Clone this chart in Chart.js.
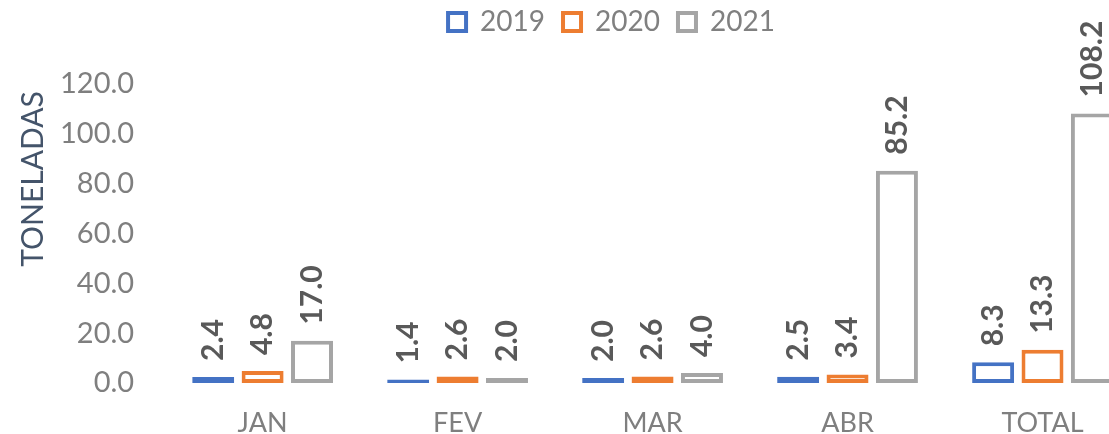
<!DOCTYPE html>
<html>
<head>
<meta charset="utf-8">
<script src="https://cdn.jsdelivr.net/npm/chart.js@4"></script>
<style>
  html, body { margin: 0; padding: 0; background: #fff; overflow: hidden; }
  #wrap { width: 1150px; height: 464px; position: relative; }
</style>
</head>
<body>
<div id="wrap"><canvas id="chart"></canvas></div>
<script>
const months = ['JAN', 'FEV', 'MAR', 'ABR', 'TOTAL'];
const values2019 = [2.4, 1.4, 2.0, 2.5, 8.3];
const values2020 = [4.8, 2.6, 2.6, 3.4, 13.3];
const values2021 = [17.0, 2.0, 4.0, 85.2, 108.2];
const seriesNames = ['2019', '2020', '2021'];
const seriesColors = ['#4472C4', '#ED7D31', '#A5A5A5'];
const yTitle = 'TONELADAS';

const FONT = 'Lato, Carlito, "Open Sans", sans-serif';

// rotated value labels above the bars
const barLabels = {
  id: 'barLabels',
  afterDatasetsDraw(chart) {
    const ctx = chart.ctx;
    ctx.save();
    ctx.font = 'bold 30px ' + FONT;
    ctx.fillStyle = '#595959';
    ctx.textAlign = 'left';
    ctx.textBaseline = 'middle';
    chart.data.datasets.forEach((ds, i) => {
      chart.getDatasetMeta(i).data.forEach((bar, j) => {
        ctx.save();
        ctx.translate(bar.x, bar.y - 16);
        ctx.rotate(-Math.PI / 2);
        ctx.fillText(ds.data[j].toFixed(1), 0, 0);
        ctx.restore();
      });
    });
    ctx.restore();
  }
};

// y title, placed like the original (a bit above the middle)
const yTitlePlugin = {
  id: 'yTitlePlugin',
  afterDraw(chart) {
    const ctx = chart.ctx;
    ctx.save();
    ctx.font = '30px ' + FONT;
    ctx.fillStyle = '#44546A';
    ctx.textAlign = 'center';
    ctx.textBaseline = 'middle';
    ctx.translate(33, chart.chartArea.top + 95);
    ctx.rotate(-Math.PI / 2);
    ctx.fillText(yTitle, 0, 0);
    ctx.restore();
  }
};

// extra room under the legend, and shift it right like the original
const legendSpace = {
  id: 'legendSpace',
  beforeInit(chart) {
    const fit = chart.legend.fit;
    chart.legend.fit = function () {
      fit.bind(chart.legend)();
      this.height += 38;
    };
  },
  afterLayout(chart) {
    chart.legend.left += 27;
    chart.legend.right += 27;
  }
};

const datasets = [values2019, values2020, values2021].map((vals, i) => ({
  label: seriesNames[i],
  data: vals,
  backgroundColor: '#ffffff',
  borderColor: seriesColors[i],
  borderWidth: 4,
  borderSkipped: false,
  categoryPercentage: 0.76,
  barPercentage: 0.85
}));

new Chart(document.getElementById('chart'), {
  type: 'bar',
  data: { labels: months, datasets },
  plugins: [barLabels, yTitlePlugin, legendSpace],
  options: {
    responsive: true,
    maintainAspectRatio: false,
    animation: false,
    layout: { padding: { left: 29, right: 10, top: -10, bottom: 0 } },
    plugins: {
      tooltip: { enabled: false },
      legend: {
        position: 'top',
        labels: {
          font: { family: FONT, size: 28 },
          color: '#808080',
          boxWidth: 18,
          boxHeight: 18,
          padding: 18
        }
      }
    },
    scales: {
      x: {
        grid: { display: false, drawTicks: false },
        border: { display: false },
        ticks: {
          font: { family: FONT, size: 27, lineHeight: 1 },
          color: '#7F7F7F',
          padding: 27
        }
      },
      y: {
        min: 0,
        max: 120,
        grid: { display: false, drawTicks: false },
        border: { display: false },
        ticks: {
          stepSize: 20,
          font: { family: FONT, size: 29 },
          color: '#7F7F7F',
          padding: 31,
          callback: v => v.toFixed(1)
        }
      }
    }
  }
});
</script>
</body>
</html>
